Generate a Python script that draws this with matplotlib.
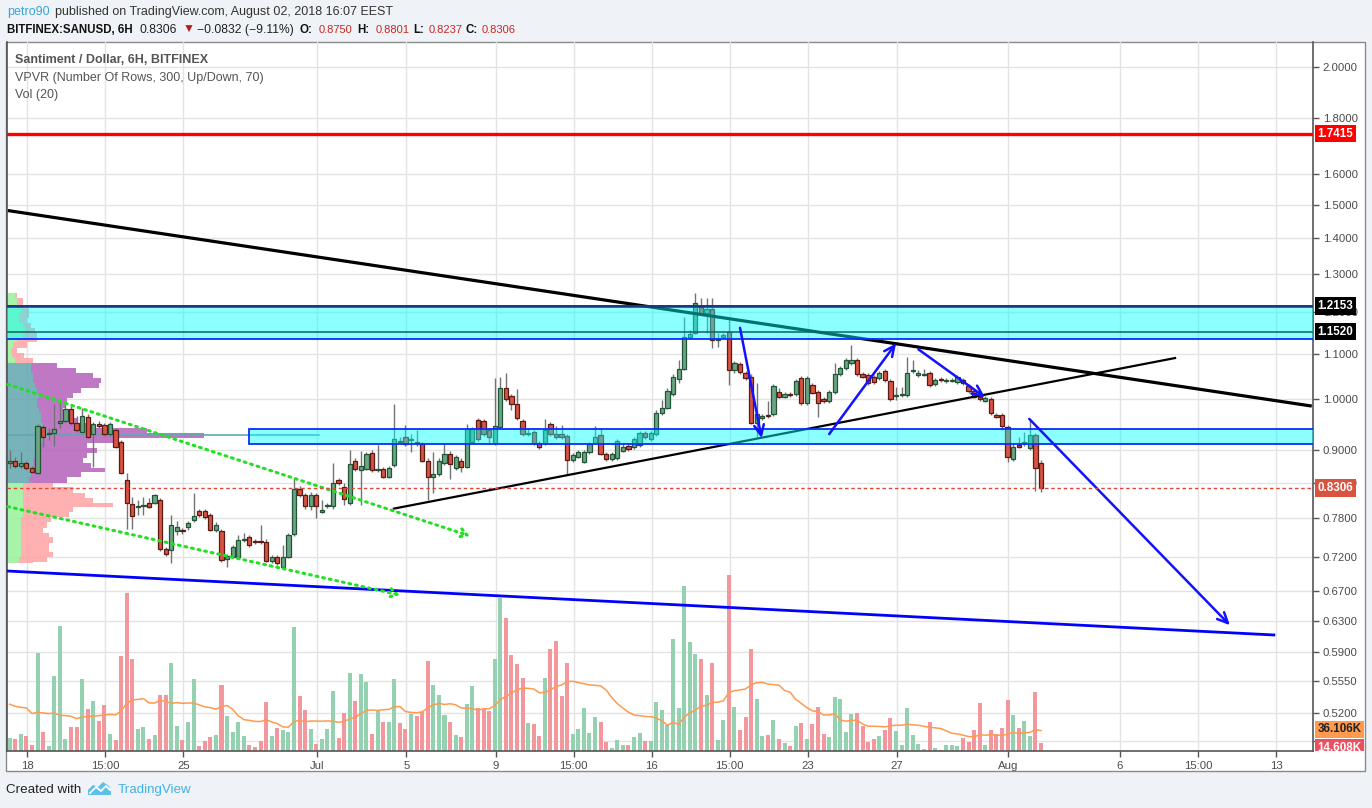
import numpy as np
import pandas as pd
import matplotlib
matplotlib.use("Agg")
import matplotlib.pyplot as plt
from matplotlib.patches import Rectangle, Polygon
from matplotlib.transforms import blended_transform_factory, Bbox, ScaledTranslation
from matplotlib.ticker import FixedLocator, FixedFormatter, NullLocator

plt.rcParams['font.family'] = ['Liberation Sans', 'DejaVu Sans']

# ---------------- data (SAN/USD, Bitfinex, 6H candles) ----------------
candle_start = '2018-06-17 05:00'
day_zero = '2018-06-18 00:00'

opens = [0.875, 0.880, 0.870, 0.875, 0.866, 0.858, 0.944, 0.930, 0.932, 0.951,
         0.956, 0.979, 0.951, 0.935, 0.964, 0.930, 0.949, 0.947, 0.930, 0.937,
         0.914, 0.845, 0.803, 0.798, 0.800, 0.806, 0.806, 0.810, 0.731, 0.730,
         0.760, 0.761, 0.766, 0.777, 0.792, 0.792, 0.785, 0.762, 0.760, 0.717,
         0.720, 0.720, 0.746, 0.750, 0.744, 0.744, 0.743, 0.714, 0.719, 0.704,
         0.719, 0.755, 0.830, 0.819, 0.800, 0.819, 0.791, 0.800, 0.800, 0.845,
         0.832, 0.805, 0.880, 0.862, 0.865, 0.894, 0.862, 0.864, 0.851, 0.871,
         0.917, 0.924, 0.918, 0.914, 0.911, 0.880, 0.850, 0.855, 0.876, 0.893,
         0.866, 0.880, 0.869, 0.915, 0.957, 0.955, 0.938, 0.912, 0.944, 1.023,
         1.006, 0.990, 0.955, 0.930, 0.934, 0.913, 0.912, 0.949, 0.930, 0.930,
         0.926, 0.881, 0.887, 0.878, 0.895, 0.913, 0.928, 0.892, 0.882, 0.884,
         0.898, 0.908, 0.905, 0.909, 0.932, 0.920, 0.930, 0.971, 0.983, 1.011,
         1.044, 1.065, 1.138, 1.149, 1.212, 1.198, 1.207, 1.132, 1.140, 1.152,
         1.062, 1.076, 1.056, 1.048, 0.952, 0.962, 0.967, 0.970, 1.015, 1.005,
         1.011, 1.011, 1.045, 0.992, 1.030, 1.015, 1.001, 0.996, 1.015, 1.054,
         1.067, 1.078, 1.085, 1.054, 1.051, 1.047, 1.045, 1.060, 1.039, 1.007,
         1.009, 1.009, 1.061, 1.051, 1.053, 1.056, 1.033, 1.044, 1.039, 1.040,
         1.037, 1.041, 1.028, 1.018, 1.005, 0.997, 1.000, 0.968, 0.968, 0.943,
         0.882, 0.909, 0.913, 0.903, 0.928, 0.8750]
highs = [0.900, 0.887, 0.896, 0.879, 0.870, 0.950, 0.948, 0.942, 0.990, 0.995,
         0.990, 0.988, 0.966, 0.981, 0.970, 0.954, 0.956, 0.952, 0.954, 0.942,
         0.919, 0.858, 0.816, 0.810, 0.816, 0.814, 0.821, 0.814, 0.735, 0.786,
         0.776, 0.764, 0.776, 0.822, 0.795, 0.795, 0.789, 0.774, 0.763, 0.724,
         0.738, 0.753, 0.757, 0.753, 0.747, 0.769, 0.747, 0.723, 0.723, 0.738,
         0.757, 0.848, 0.835, 0.822, 0.824, 0.822, 0.810, 0.805, 0.876, 0.848,
         0.839, 0.900, 0.885, 0.898, 0.896, 0.900, 0.909, 0.868, 0.870, 0.990,
         0.924, 0.948, 0.930, 0.938, 0.915, 0.885, 0.896, 0.885, 0.911, 0.898,
         0.890, 0.885, 0.949, 0.944, 0.962, 0.960, 0.942, 1.045, 1.048, 1.057,
         1.011, 1.022, 0.960, 0.942, 0.938, 0.917, 0.959, 0.954, 0.946, 0.947,
         0.930, 0.894, 0.900, 0.900, 0.915, 0.946, 0.942, 0.896, 0.896, 0.920,
         0.911, 0.913, 0.924, 0.936, 0.936, 0.936, 0.978, 0.999, 1.024, 1.054,
         1.086, 1.188, 1.156, 1.249, 1.235, 1.236, 1.236, 1.148, 1.149, 1.180,
         1.083, 1.081, 1.061, 1.054, 1.034, 0.970, 0.997, 1.032, 1.024, 1.015,
         1.015, 1.043, 1.050, 1.050, 1.035, 1.020, 1.005, 1.020, 1.078, 1.072,
         1.090, 1.120, 1.090, 1.059, 1.056, 1.052, 1.061, 1.065, 1.043, 1.027,
         1.027, 1.093, 1.086, 1.063, 1.065, 1.061, 1.046, 1.048, 1.046, 1.046,
         1.052, 1.046, 1.033, 1.022, 1.009, 1.007, 1.005, 0.972, 0.972, 0.948,
         0.911, 0.924, 0.934, 0.958, 0.932, 0.8801]
lows = [0.866, 0.866, 0.866, 0.863, 0.857, 0.856, 0.905, 0.919, 0.908, 0.942,
        0.954, 0.948, 0.934, 0.932, 0.922, 0.869, 0.942, 0.926, 0.926, 0.903,
        0.856, 0.763, 0.763, 0.786, 0.786, 0.797, 0.804, 0.729, 0.721, 0.711,
        0.753, 0.755, 0.761, 0.774, 0.782, 0.779, 0.760, 0.758, 0.712, 0.704,
        0.718, 0.719, 0.742, 0.735, 0.739, 0.739, 0.712, 0.711, 0.708, 0.703,
        0.718, 0.752, 0.816, 0.795, 0.794, 0.781, 0.789, 0.797, 0.795, 0.836,
        0.802, 0.802, 0.861, 0.802, 0.863, 0.859, 0.859, 0.848, 0.848, 0.868,
        0.911, 0.907, 0.896, 0.907, 0.877, 0.810, 0.822, 0.852, 0.872, 0.846,
        0.863, 0.859, 0.866, 0.911, 0.917, 0.926, 0.913, 0.909, 0.942, 0.996,
        0.978, 0.958, 0.926, 0.926, 0.909, 0.901, 0.909, 0.926, 0.920, 0.920,
        0.856, 0.877, 0.885, 0.876, 0.892, 0.911, 0.890, 0.879, 0.879, 0.881,
        0.896, 0.898, 0.901, 0.905, 0.920, 0.917, 0.926, 0.968, 0.980, 1.007,
        1.034, 1.063, 1.134, 1.146, 1.192, 1.149, 1.112, 1.116, 1.134, 1.030,
        1.056, 1.054, 1.041, 0.950, 0.922, 0.958, 0.962, 0.966, 1.003, 1.003,
        1.005, 1.007, 0.988, 0.988, 1.011, 0.964, 0.992, 0.992, 1.011, 1.050,
        1.063, 1.074, 1.050, 1.046, 1.030, 1.033, 1.041, 1.037, 0.996, 0.999,
        1.005, 1.005, 1.056, 1.048, 1.050, 1.026, 1.028, 1.037, 1.035, 1.037,
        1.033, 1.030, 1.013, 1.003, 0.996, 0.994, 0.968, 0.962, 0.938, 0.877,
        0.879, 0.903, 0.907, 0.900, 0.826, 0.8237]
closes = [0.879, 0.870, 0.875, 0.866, 0.860, 0.946, 0.925, 0.932, 0.940, 0.956,
          0.979, 0.951, 0.938, 0.966, 0.925, 0.949, 0.946, 0.930, 0.949, 0.906,
          0.858, 0.805, 0.783, 0.800, 0.801, 0.799, 0.819, 0.731, 0.724, 0.770,
          0.766, 0.759, 0.772, 0.784, 0.786, 0.782, 0.762, 0.770, 0.715, 0.721,
          0.734, 0.746, 0.747, 0.737, 0.742, 0.742, 0.714, 0.719, 0.710, 0.719,
          0.753, 0.830, 0.819, 0.800, 0.819, 0.800, 0.793, 0.801, 0.839, 0.839,
          0.812, 0.874, 0.864, 0.870, 0.892, 0.862, 0.864, 0.851, 0.866, 0.920,
          0.915, 0.911, 0.920, 0.912, 0.880, 0.850, 0.855, 0.880, 0.892, 0.873,
          0.886, 0.869, 0.939, 0.939, 0.920, 0.930, 0.925, 0.946, 1.023, 1.000,
          0.990, 0.961, 0.930, 0.933, 0.912, 0.905, 0.938, 0.930, 0.924, 0.925,
          0.881, 0.890, 0.895, 0.895, 0.910, 0.924, 0.893, 0.882, 0.892, 0.916,
          0.906, 0.901, 0.920, 0.932, 0.924, 0.932, 0.972, 0.983, 1.018, 1.048,
          1.065, 1.138, 1.145, 1.222, 1.198, 1.207, 1.132, 1.135, 1.143, 1.063,
          1.078, 1.059, 1.045, 0.952, 0.969, 0.966, 0.965, 1.028, 1.005, 1.011,
          1.009, 1.039, 0.992, 1.045, 1.014, 0.993, 0.996, 1.015, 1.054, 1.067,
          1.086, 1.086, 1.054, 1.048, 1.035, 1.036, 1.056, 1.041, 1.000, 1.009,
          1.012, 1.056, 1.063, 1.057, 1.055, 1.030, 1.041, 1.042, 1.041, 1.042,
          1.047, 1.034, 1.018, 1.005, 1.001, 1.002, 0.971, 0.964, 0.946, 0.887,
          0.906, 0.906, 0.915, 0.928, 0.866, 0.8306]
# volume in thousands
volume = [23.4, 21.7, 30.4, 26.9, 11.2, 172.0, 33.9, 9.4, 131.8, 219.0,
          21.7, 42.6, 42.6, 126.6, 74.0, 88.0, 53.0, 81.0, 30.4, 20.0,
          166.7, 276.6, 161.5, 39.0, 42.6, 21.7, 28.7, 98.6, 98.6, 154.5,
          44.4, 20.0, 51.4, 126.6, 9.4, 18.2, 25.2, 28.7, 116.0, 61.9,
          33.9, 51.4, 26.9, 11.2, 7.7, 18.2, 86.4, 26.9, 40.9, 37.4,
          33.9, 217.5, 96.9, 72.4, 39.0, 12.9, 21.7, 39.0, 105.6, 23.4,
          67.1, 137.0, 88.0, 135.3, 121.3, 30.4, 72.4, 51.4, 51.4, 126.6,
          49.7, 39.0, 65.4, 61.9, 68.9, 158.0, 116.0, 98.6, 63.6, 51.4,
          28.7, 25.2, 83.0, 114.3, 75.9, 74.0, 70.7, 161.5, 268.0, 233.0,
          168.5, 152.8,
          128.3, 49.7, 47.9, 26.9, 128.3, 179.0, 193.0, 96.9, 154.5, 30.4,
          39.2, 75.9, 32.2, 60.1, 51.4, 16.4, 5.9, 19.9, 11.2, 11.2,
          25.2, 32.2, 18.2, 18.2, 86.4, 72.4, 46.2, 196.5, 75.9, 289.0,
          191.3, 170.3, 161.5, 98.6, 154.5, 19.9, 54.9, 308.4, 77.6, 37.4,
          60.1, 179.0, 91.6, 26.9, 28.7, 54.9, 21.7, 14.7, 9.4, 44.4,
          49.7, 21.7, 47.9, 77.6, 30.4, 25.2, 95.1, 91.6, 33.9, 65.4,
          67.1, 44.4, 16.4, 21.7, 26.9, 37.4, 58.4, 35.7, 11.2, 75.9,
          28.7, 12.9, 4.2, 51.4, 5.9, 2.4, 11.2, 10.1, 9.4, 23.4,
          16.4, 37.4, 84.6, 11.2, 37.4, 30.4, 40.9, 89.9, 63.6, 40.9,
          53.1, 26.9, 103.8, 14.608]
# Vol(20) moving average for the first 19 bars (earlier history not visible)
vol_ma_head = [81.7, 78.2, 76.4, 75.3, 65.4, 67.7, 66.5, 65.4, 66.5, 62.4,
               61.8, 60.7, 56.6, 59.0, 60.7, 60.7, 61.8, 63.0, 64.1]
vol_ma_last = 36.106

# VPVR rows (price of row, up volume, down volume; arbitrary units)
vp_price = [1.2432, 1.2304, 1.2176, 1.2049, 1.1924, 1.1801, 1.1678, 1.1557, 1.1437, 1.1318,
            1.1201, 1.1084, 1.0969, 1.0855, 1.0742, 1.0631, 1.0520, 1.0411, 1.0303, 1.0196,
            1.0090, 0.9985, 0.9882, 0.9779, 0.9677, 0.9577, 0.9477, 0.9379, 0.9282, 0.9185,
            0.9090, 0.8996, 0.8902, 0.8810, 0.8718, 0.8628, 0.8539, 0.8449, 0.8362, 0.8275,
            0.8189, 0.8104, 0.8020, 0.7937, 0.7855, 0.7773, 0.7692, 0.7612, 0.7533, 0.7455,
            0.7377, 0.7301, 0.7225, 0.7150, 0.7076]
vp_up = [8, 10, 10, 14, 12, 12, 16, 18, 16, 10,
         6, 4, 5, 8, 24, 24, 26, 26, 28, 30,
         32, 30, 30, 32, 34, 34, 36, 40, 42, 36,
         30, 28, 28, 26, 26, 26, 24, 22, 16, 16,
         16, 16, 16, 16, 16, 14, 14, 14, 14, 14,
         14, 14, 14, 12, 10]
vp_down = [2, 6, 6, 8, 10, 8, 8, 10, 14, 20,
           14, 6, 12, 18, 26, 45, 60, 68, 64, 44,
           34, 30, 28, 24, 28, 36, 46, 100, 155, 74,
           50, 62, 52, 50, 58, 72, 50, 38, 30, 50,
           62, 70, 90, 50, 46, 30, 26, 22, 28, 32,
           28, 28, 32, 28, 16]
va_high, va_low = 1.079, 0.839
poc_price = 0.928

# user drawings (x in days since Jun 18, price)
resistance = 1.7415
zone1_lo, zone1_mid, zone1_hi = 1.1334, 1.1520, 1.2153
zone2_lo, zone2_hi, zone2_x0 = 0.9109, 0.9393, 9.94
down_trend_x, down_trend_y = [-0.87, 57.6], [1.483, 0.986]
up_trend_x, up_trend_y = [16.44, 51.47], [0.796, 1.090]
support_x, support_y = [-0.87, 55.9], [0.6987, 0.6114]
chan_up_x, chan_up_y = [-0.87, 19.85], [1.0316, 0.7518]
chan_lo_x, chan_lo_y = [-0.87, 16.71], [0.7992, 0.6646]
arrows = [(31.96, 1.161, 32.93, 0.922),
          (35.96, 0.930, 38.96, 1.124),
          (39.96, 1.110, 42.95, 1.004),
          (44.93, 0.960, 53.93, 0.624)]
last_price = 0.8306

price_ticks = [2.0, 1.8, 1.6, 1.5, 1.4, 1.3, 1.2, 1.1, 1.0, 0.9, 0.84, 0.78,
               0.72, 0.67, 0.63, 0.59, 0.555, 0.52, 0.49]
price_labels = ['2.0000', '1.8000', '1.6000', '1.5000', '1.4000', '1.3000', '1.2000',
                '1.1000', '1.0000', '0.9000', '0.8400', '0.7800', '0.7200', '0.6700',
                '0.6300', '0.5900', '0.5550', '0.5200', '']
time_ticks = [0, 3.5, 7, 13, 17, 21, 24.5, 28, 31.5, 35, 39, 44, 49, 52.5, 56]
time_labels = ['18', '15:00', '25', 'Jul', '5', '9', '15:00', '16', '15:00',
               '23', '27', 'Aug', '6', '15:00', '13']

# ---------------- derived ----------------
o = np.array(opens); h = np.array(highs); l = np.array(lows); c = np.array(closes)
n = len(o)
times = pd.date_range(candle_start, periods=n, freq='6h')
xd = np.asarray((times - pd.Timestamp(day_zero)) / pd.Timedelta(days=1), dtype=float)
vol = np.array(volume)
vol_ma = pd.Series(vol).rolling(20).mean().to_numpy()
vol_ma[:len(vol_ma_head)] = vol_ma_head
up = c >= o

# ---------------- figure ----------------
W, H = 1372, 808
fig = plt.figure(figsize=(W / 100, H / 100), dpi=100, facecolor='#eff2f6')

def fx(px):
    return px / W

def fy(py):
    return 1 - py / H

L_PX, R_PX, T_PX, B_PX = 7, 1313, 42, 751
rect = [fx(L_PX), fy(B_PX), fx(R_PX) - fx(L_PX), fy(T_PX) - fy(B_PX)]
XLIM = (-0.9103, 57.655)
YLIM = (0.47987, 2.1085)
VOL_TOP = 1239.5

# chart frame
fig.patches.append(Rectangle((fx(6), fy(771)), fx(1365) - fx(6), fy(42) - fy(771),
                             transform=fig.transFigure, facecolor='white',
                             edgecolor='#8a8a8a', lw=1.0, zorder=-1))

# background axes with grid
ax_bg = fig.add_axes(rect, zorder=0)
ax_bg.set_yscale('log')
ax_bg.set_xlim(*XLIM); ax_bg.set_ylim(*YLIM)
ax_bg.axis('off')
for t in time_ticks:
    ax_bg.axvline(t, color='#e3e3e3', lw=1.0)
for p in price_ticks:
    ax_bg.axhline(p, color='#e3e3e3', lw=1.0)

# VPVR axes
ax_vp = fig.add_axes(rect, zorder=1)
ax_vp.set_facecolor('none')
ax_vp.set_yscale('log')
ax_vp.set_xlim(0, R_PX - L_PX); ax_vp.set_ylim(*YLIM)
ax_vp.axis('off')
vpp = np.array(vp_price)
lp = np.log(vpp)
mid = (lp[:-1] + lp[1:]) / 2
edges = np.concatenate([[lp[0] + (lp[0] - mid[0])], mid, [lp[-1] - (mid[0] - lp[0])]])
row_top = np.exp(edges[:-1]); row_bot = np.exp(edges[1:])
in_va = (vpp <= va_high) & (vpp >= va_low)
up_col = np.where(in_va, '#5fa6ac', '#98f29a')
dn_col = np.where(in_va, '#b462ba', '#ffa2a4')
ax_vp.barh(row_bot, vp_up, height=row_top - row_bot, left=0, align='edge',
           color=up_col, alpha=0.85, lw=0)
ax_vp.barh(row_bot, vp_down, height=row_top - row_bot, left=vp_up, align='edge',
           color=dn_col, alpha=0.85, lw=0)
ax_vp.plot([0, 312], [poc_price, poc_price], color='#5ea9b0', lw=1.2)

# volume axes
ax_vol = fig.add_axes(rect, zorder=2)
ax_vol.set_facecolor('none')
ax_vol.set_xlim(*XLIM); ax_vol.set_ylim(0, VOL_TOP)
ax_vol.axis('off')
ax_vol.bar(xd, vol, width=0.18, color=np.where(up, '#93d1b1', '#f2989d'), lw=0)
ax_vol.plot(xd, vol_ma, color='#ff9a4f', lw=1.1)

# main price axes
ax = fig.add_axes(rect, zorder=3)
ax.set_facecolor('none')
ax.set_yscale('log')
ax.set_xlim(*XLIM); ax.set_ylim(*YLIM)

# candles
ax.vlines(xd, l, h, color='#737375', lw=1.0, zorder=2)
bb = np.minimum(o, c)
bh = np.maximum(np.abs(c - o), bb * 0.0018)
ax.bar(xd[up], bh[up], bottom=bb[up], width=0.19, color='#6ba583',
       edgecolor='#225437', lw=0.9, zorder=3)
ax.bar(xd[~up], bh[~up], bottom=bb[~up], width=0.19, color='#d75442',
       edgecolor='#5b1a13', lw=0.9, zorder=3)

# trend lines
ax.plot(down_trend_x, down_trend_y, color='black', lw=2.3, zorder=4,
        solid_capstyle='butt')
ax.plot(up_trend_x, up_trend_y, color='black', lw=1.6, zorder=4)
ax.plot(support_x, support_y, color='#0000ff', lw=2.0, zorder=4)
for xs, ys in [(chan_up_x, chan_up_y), (chan_lo_x, chan_lo_y)]:
    ax.annotate('', xy=(xs[1], ys[1]), xytext=(xs[0], ys[0]),
                arrowprops=dict(arrowstyle='->,head_length=0.5,head_width=0.3',
                                color='#22e022', lw=2.2, linestyle=(0, (0.6, 1.6)),
                                shrinkA=0, shrinkB=0), zorder=4)

# zones
ax.add_patch(Rectangle((XLIM[0] - 1, zone1_lo), XLIM[1] - XLIM[0] + 2, zone1_hi - zone1_lo,
                       facecolor=(0, 1, 1, 0.45), edgecolor='#0a2cff', lw=1.3, zorder=6))
ax.add_patch(Rectangle((zone2_x0, zone2_lo), XLIM[1] + 1 - zone2_x0, zone2_hi - zone2_lo,
                       facecolor=(0, 1, 1, 0.45), edgecolor='#0a2cff', lw=1.3, zorder=6))
ax.axhline(zone1_hi, color='#1b3580', lw=1.8, zorder=6.5)
ax.axhline(zone1_mid, color='#175e62', lw=1.1, zorder=6.5)

# arrows
for x0, y0, x1, y1 in arrows:
    ax.annotate('', xy=(x1, y1), xytext=(x0, y0),
                arrowprops=dict(arrowstyle='->,head_length=0.75,head_width=0.35',
                                color='#1212ff', lw=1.8, shrinkA=0, shrinkB=0),
                zorder=7)

ax.axhline(resistance, color='#ff0000', lw=2.4, zorder=7)
ax.axhline(last_price, color='#e2453a', lw=1.0, ls=(0, (2.5, 2)), zorder=7)

# axes styling
ax.spines['top'].set_visible(False)
for s in ['left', 'right', 'bottom']:
    ax.spines[s].set_color('#555555')
    ax.spines[s].set_linewidth(1.2)
ax.yaxis.tick_right()
ax.yaxis.set_major_locator(FixedLocator(price_ticks))
ax.yaxis.set_major_formatter(FixedFormatter(price_labels))
ax.yaxis.set_minor_locator(NullLocator())
ax.set_xticks(time_ticks)
ax.set_xticklabels(time_labels)
ax.tick_params(axis='both', which='major', direction='out', length=4, width=1,
               color='#555555', labelcolor='#4a4a4a', labelsize=8.2, pad=3)

# right axis value labels
clip = Bbox.from_extents(R_PX, H - B_PX, W, H - T_PX)
def axis_label(yval, text, fc, tc, ytrans, dy_px=0.0):
    tr = blended_transform_factory(ax.transAxes, ytrans) + \
        ScaledTranslation(0, -dy_px / fig.dpi, fig.dpi_scale_trans)
    t = ax.text(1.0 + 4.5 / (R_PX - L_PX), yval, text, transform=tr,
                ha='left', va='center', fontsize=8.4, fontweight='bold', color=tc,
                bbox=dict(boxstyle='square,pad=0.24', fc=fc, ec='none'), zorder=20)
    t.set_clip_on(True)
    t.set_clip_box(clip)

axis_label(resistance, f'{resistance:.4f}', '#ff0000', 'white', ax.transData)
axis_label(zone1_hi, f'{zone1_hi:.4f}', 'black', 'white', ax.transData)
axis_label(zone1_mid, f'{zone1_mid:.4f}', 'black', 'white', ax.transData)
axis_label(last_price, f'{last_price:.4f}', '#d9533f', 'white', ax.transData)
axis_label(vol_ma_last, f'{vol_ma_last:.3f}K', '#ff9a4f', '#222222', ax_vol.transData,
           dy_px=-1)
axis_label(vol[-1], f'{vol[-1]:.3f}K', '#ee4e60', 'white', ax_vol.transData, dy_px=5)

# header texts
def ftext(px, py, s, **kw):
    fig.text(fx(px), fy(py), s, va='center', ha='left', **kw)

ftext(7, 12, 'petro90', color='#3aa3da', fontsize=9)
ftext(55, 12, 'published on TradingView.com, August 02, 2018 16:07 EEST',
      color='#333333', fontsize=9)
ftext(7, 30, 'BITFINEX:SANUSD, 6H', color='#111111', fontsize=8.3, fontweight='bold')
ftext(140, 30, '0.8306', color='#222222', fontsize=8.7)
ftext(183, 30, '\u25bc', color='#b71c1c', fontsize=8.7)
ftext(197, 30, '\u22120.0832 (\u22129.11%)', color='#222222', fontsize=8.7)
for lab, val, xl, xv in [('O:', '0.8750', 300, 319), ('H:', '0.8801', 357, 376),
                         ('L:', '0.8237', 413, 429), ('C:', '0.8306', 466, 482)]:
    ftext(xl, 30, lab, color='#111111', fontsize=8.3, fontweight='bold')
    ftext(xv, 30, val, color='#c62828', fontsize=8.0)

ftext(15, 60, 'Santiment / Dollar, 6H, BITFINEX', color='#555555', fontsize=9,
      fontweight='bold')
ftext(15, 78, 'VPVR (Number Of Rows, 300, Up/Down, 70)', color='#555555', fontsize=9)
ftext(15, 95, 'Vol (20)', color='#555555', fontsize=9)

# footer
ftext(6, 790, 'Created with', color='#222222', fontsize=9.6)
logo = [(88, 795), (88, 790), (93, 785), (98, 787), (103, 782), (109, 786), (111, 791), (111, 795)]
fig.patches.append(Polygon([(fx(a), fy(b)) for a, b in logo], closed=True,
                           transform=fig.transFigure, facecolor='#5cc0ea', edgecolor='none'))
zig = [(90, 793), (96, 787), (101, 791), (106, 786), (110, 790)]
fig.lines.append(plt.Line2D([fx(a) for a, b in zig], [fy(b) for a, b in zig],
                            transform=fig.transFigure, color='white', lw=1.3))
ftext(118, 790, 'TradingView', color='#45b1e5', fontsize=9.6)

fig.savefig('out.png', dpi=100, facecolor=fig.get_facecolor())
